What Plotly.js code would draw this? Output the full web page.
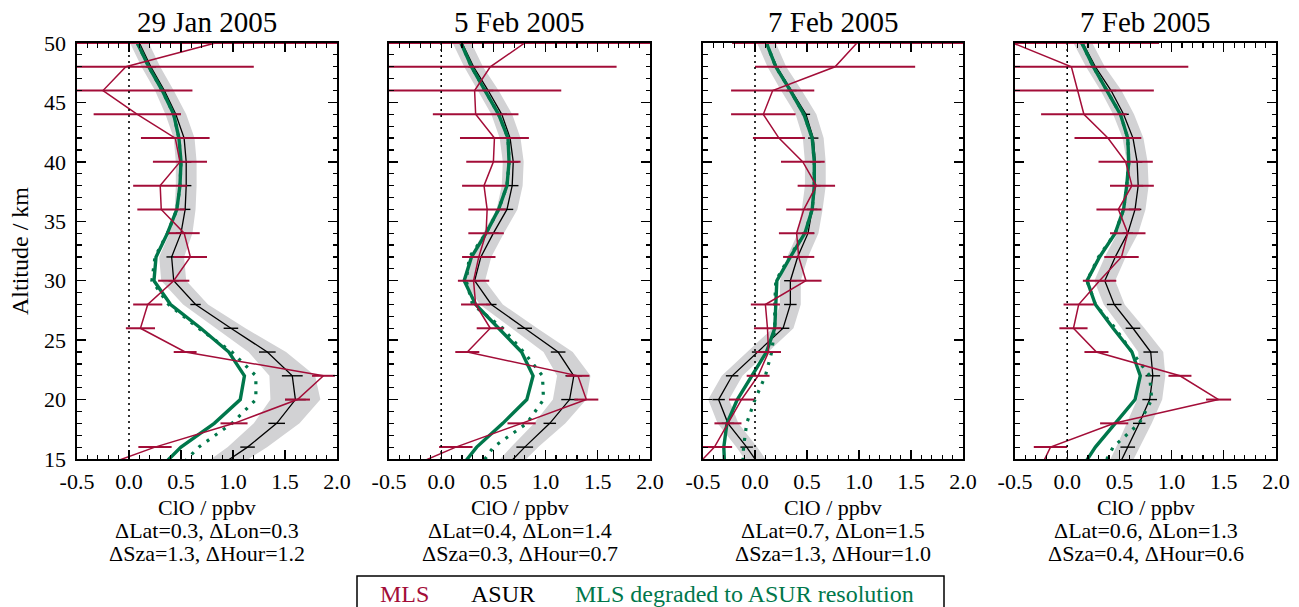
<!DOCTYPE html>
<html>
<head>
<meta charset="utf-8">
<script src="https://cdn.plot.ly/plotly-3.0.1.min.js"></script>
<style>html,body{margin:0;padding:0;background:#fff;}#chart{width:1299px;height:607px;}</style>
</head>
<body>
<div id="chart"></div>
<script>
// ---------- DATA ----------
const altitude = [50,48,46,44,42,40,38,36,34,32,30,28,26,24,22,20,18,16,14];

const panelTitles = ["29 Jan 2005","5 Feb 2005","7 Feb 2005","7 Feb 2005"];
const latLonText = ["\u0394Lat=0.3, \u0394Lon=0.3","\u0394Lat=0.4, \u0394Lon=1.4","\u0394Lat=0.7, \u0394Lon=1.5","\u0394Lat=0.6, \u0394Lon=1.3"];
const szaHourText = ["\u0394Sza=1.3, \u0394Hour=1.2","\u0394Sza=0.3, \u0394Hour=0.7","\u0394Sza=1.3, \u0394Hour=1.0","\u0394Sza=0.4, \u0394Hour=0.6"];

const xTickVals = [-0.5,0,0.5,1,1.5,2];
const xTickText = ["-0.5","0.0","0.5","1.0","1.5","2.0"];
const yTickVals = [15,20,25,30,35,40,45,50];

// MLS (red)
const mls1 = [0.83,-0.03,-0.25,0.08,0.445,0.49,0.30,0.31,0.53,0.59,0.43,0.18,0.11,0.54,1.87,1.62,1.01,0.25,-0.38];
const mls2 = [0.80,0.47,0.32,0.33,0.51,0.50,0.41,0.44,0.43,0.36,0.31,0.33,0.47,0.25,1.31,1.39,0.77,0.14,-0.39];
const mls3 = [0.98,0.77,0.17,0.08,0.23,0.46,0.59,0.47,0.40,0.42,0.49,0.10,0.12,0.13,0.03,-0.13,-0.26,-0.39,-0.61];
const mls4 = [-0.52,0.04,0.10,0.16,0.39,0.56,0.62,0.49,0.58,0.52,0.31,0.11,0.06,0.28,1.08,1.45,0.45,-0.16,-0.27];
const mlsErr1 = [1.45,1.23,0.86,0.42,0.33,0.26,0.26,0.23,0.15,0.16,0.15,0.14,0.14,0.11,0.11,0.12,0.13,0.16,0.2];
const mlsErr2 = [1.45,1.21,0.83,0.41,0.33,0.26,0.21,0.18,0.17,0.16,0.15,0.14,0.13,0.115,0.11,0.115,0.135,0.16,0.2];
const mlsErr3 = [1.2,0.77,0.40,0.31,0.25,0.21,0.18,0.17,0.17,0.15,0.15,0.14,0.13,0.12,0.11,0.12,0.13,0.17,0.2];
const mlsErr4 = [1.4,1.12,0.73,0.41,0.32,0.26,0.21,0.21,0.17,0.165,0.16,0.145,0.135,0.115,0.11,0.12,0.135,0.16,0.2];

// ASUR (black) with grey uncertainty band
const asur1 = [0.10,0.21,0.34,0.45,0.53,0.55,0.55,0.54,0.50,0.41,0.43,0.64,0.98,1.33,1.57,1.60,1.42,1.14,0.80];
const asur2 = [0.20,0.31,0.45,0.58,0.66,0.69,0.68,0.63,0.50,0.38,0.32,0.48,0.80,1.12,1.27,1.23,1.04,0.80,0.58];
const asur3 = [0.11,0.21,0.35,0.49,0.56,0.58,0.58,0.55,0.51,0.41,0.34,0.34,0.27,0.02,-0.22,-0.35,-0.26,-0.08,0.08];
const asur4 = [0.15,0.27,0.42,0.54,0.63,0.67,0.68,0.65,0.58,0.46,0.36,0.45,0.63,0.80,0.82,0.79,0.69,0.58,0.47];
const asurBand1 = [0.09,0.09,0.09,0.10,0.10,0.10,0.10,0.10,0.11,0.12,0.12,0.12,0.14,0.18,0.22,0.24,0.22,0.19,0.17];
const asurBand2 = [0.09,0.09,0.10,0.10,0.10,0.10,0.10,0.10,0.10,0.10,0.10,0.11,0.12,0.14,0.16,0.16,0.15,0.13,0.12];
const asurBand3 = [0.09,0.09,0.10,0.10,0.10,0.10,0.10,0.10,0.10,0.10,0.10,0.10,0.10,0.10,0.10,0.10,0.10,0.10,0.10];
const asurBand4 = [0.09,0.09,0.10,0.10,0.10,0.10,0.10,0.10,0.10,0.10,0.10,0.10,0.11,0.12,0.12,0.12,0.12,0.11,0.11];
const asurErr1 = [0.05,0.05,0.05,0.05,0.05,0.05,0.05,0.05,0.05,0.05,0.05,0.05,0.07,0.08,0.10,0.10,0.08,0.07,0.07];
const asurErr2 = [0.05,0.05,0.05,0.05,0.05,0.05,0.06,0.06,0.05,0.05,0.05,0.05,0.07,0.07,0.08,0.08,0.06,0.08,0.08];
const asurErr3 = [0.05,0.05,0.05,0.04,0.05,0.05,0.05,0.05,0.06,0.05,0.06,0.06,0.06,0.05,0.06,0.06,0.06,0.06,0.06];
const asurErr4 = [0.05,0.05,0.05,0.05,0.05,0.05,0.05,0.06,0.05,0.05,0.05,0.07,0.07,0.07,0.07,0.07,0.06,0.07,0.07];

// MLS degraded to ASUR resolution (green solid) and dotted variant
const deg1 = [0.08,0.19,0.32,0.43,0.48,0.50,0.49,0.46,0.37,0.26,0.24,0.40,0.69,0.96,1.11,1.07,0.82,0.50,0.27];
const deg2 = [0.19,0.29,0.42,0.55,0.64,0.65,0.63,0.55,0.43,0.29,0.22,0.33,0.55,0.77,0.88,0.82,0.59,0.34,0.16];
const deg3 = [0.11,0.20,0.34,0.47,0.55,0.57,0.57,0.55,0.48,0.34,0.21,0.20,0.19,0.11,-0.03,-0.17,-0.27,-0.30,-0.29];
const deg4 = [0.14,0.25,0.38,0.51,0.58,0.59,0.57,0.54,0.46,0.31,0.19,0.27,0.44,0.62,0.70,0.65,0.46,0.27,0.12];
const degDot1 = [0.08,0.19,0.32,0.43,0.48,0.50,0.49,0.46,0.37,0.25,0.22,0.38,0.67,0.99,1.22,1.22,0.99,0.67,0.45];
const degDot2 = [0.19,0.29,0.42,0.55,0.64,0.65,0.63,0.55,0.43,0.27,0.24,0.30,0.59,0.79,0.97,0.98,0.82,0.50,0.34];
const degDot3 = [0.11,0.20,0.34,0.47,0.55,0.57,0.57,0.55,0.48,0.33,0.20,0.19,0.19,0.16,0.10,0.00,-0.08,-0.11,-0.12];
const degDot4 = [0.14,0.25,0.38,0.51,0.58,0.59,0.57,0.54,0.46,0.30,0.19,0.27,0.46,0.62,0.79,0.81,0.69,0.44,0.32];

const legendLabels = ["MLS","ASUR","MLS degraded to ASUR resolution"];

// ---------- STYLE ----------
const RED = "#a30d38", GREEN = "#00774b", GREY = "#d2d2d4";
const FONT = '"Liberation Serif", "Times New Roman", serif';
const W = 1299, H = 607;
const panelsPx = [[77,337],[389,650],[703,963],[1015,1276]];
const plotTop = 43, plotBottom = 459;

const panels = [
  {mls:mls1, mlsErr:mlsErr1, asur:asur1, band:asurBand1, aerr:asurErr1, deg:deg1, dot:degDot1},
  {mls:mls2, mlsErr:mlsErr2, asur:asur2, band:asurBand2, aerr:asurErr2, deg:deg2, dot:degDot2},
  {mls:mls3, mlsErr:mlsErr3, asur:asur3, band:asurBand3, aerr:asurErr3, deg:deg3, dot:degDot3},
  {mls:mls4, mlsErr:mlsErr4, asur:asur4, band:asurBand4, aerr:asurErr4, deg:deg4, dot:degDot4}
];

const traces = [];
const layout = {
  width: W, height: H,
  margin: {l:0, r:0, t:0, b:0},
  paper_bgcolor: "#fff", plot_bgcolor: "#fff",
  showlegend: false,
  font: {family: FONT, color: "#000", size: 22},
  annotations: [], shapes: []
};

panels.forEach((p, i) => {
  const n = i === 0 ? "" : String(i + 1);
  const xa = "x" + n, ya = "y" + n;
  const up = p.asur.map((v, k) => v + p.band[k]);
  const lo = p.asur.map((v, k) => v - p.band[k]);
  traces.push({type:"scatter", mode:"lines", xaxis:xa, yaxis:ya,
    x: up.concat(lo.slice().reverse()), y: altitude.concat(altitude.slice().reverse()),
    fill:"toself", fillcolor:GREY, line:{width:0, color:GREY}, hoverinfo:"skip"});
  traces.push({type:"scatter", mode:"lines", xaxis:xa, yaxis:ya, x:p.asur, y:altitude,
    line:{color:"#000", width:1.3},
    error_x:{type:"data", array:p.aerr, visible:true, color:"#000", thickness:1.4, width:0}});
  traces.push({type:"scatter", mode:"lines", xaxis:xa, yaxis:ya, x:p.dot, y:altitude,
    line:{color:GREEN, width:3.2, dash:"3px,7px"}});
  traces.push({type:"scatter", mode:"lines", xaxis:xa, yaxis:ya, x:p.deg, y:altitude,
    line:{color:GREEN, width:3.4}});
  traces.push({type:"scatter", mode:"lines", xaxis:xa, yaxis:ya, x:p.mls, y:altitude,
    line:{color:RED, width:1.5},
    error_x:{type:"data", array:p.mlsErr, visible:true, color:RED, thickness:2, width:0}});

  const x0 = panelsPx[i][0] / W, x1 = panelsPx[i][1] / W;
  layout["xaxis" + n] = {
    domain:[x0, x1], anchor:ya, range:[-0.5, 2.0],
    tickvals:xTickVals, ticktext:xTickText,
    ticks:"inside", ticklen:9, tickwidth:1.3, tickcolor:"#000",
    minor:{ticks:"inside", ticklen:4.5, dtick:0.1, tickwidth:1.2, tickcolor:"#000"},
    showline:true, linecolor:"#000", linewidth:1.6, mirror:"ticks",
    showgrid:false, zeroline:false, ticklabelstandoff:2,
    tickfont:{family:FONT, size:22, color:"#000"}, fixedrange:true
  };
  layout["yaxis" + n] = {
    domain:[1 - plotBottom / H, 1 - plotTop / H], anchor:xa, range:[15, 50],
    tickvals:yTickVals, showticklabels: i === 0,
    ticks:"inside", ticklen:9, tickwidth:1.3, tickcolor:"#000",
    minor:{ticks:"inside", ticklen:4.5, dtick:1, tickwidth:1.2, tickcolor:"#000"},
    showline:true, linecolor:"#000", linewidth:1.6, mirror:"ticks",
    showgrid:false, zeroline:false, ticklabelstandoff:5,
    tickfont:{family:FONT, size:22, color:"#000"}, fixedrange:true
  };
  layout.shapes.push({type:"line", xref:xa, yref:ya + " domain", x0:0, x1:0, y0:0, y1:1,
    line:{color:"#000", width:1.6, dash:"2px,4px"}, layer:"above"});
  const xc = (x0 + x1) / 2;
  layout.annotations.push({text:panelTitles[i], xref:"paper", yref:"paper", x:xc, y:1 - 22 / H,
    xanchor:"center", yanchor:"middle", showarrow:false, font:{family:FONT, size:29, color:"#000"}});
  layout.annotations.push({text:"ClO / ppbv", xref:"paper", yref:"paper", x:xc, y:1 - 507 / H,
    xanchor:"center", yanchor:"middle", showarrow:false, font:{family:FONT, size:22, color:"#000"}});
  layout.annotations.push({text:latLonText[i], xref:"paper", yref:"paper", x:xc, y:1 - 530 / H,
    xanchor:"center", yanchor:"middle", showarrow:false, font:{family:FONT, size:22, color:"#000"}});
  layout.annotations.push({text:szaHourText[i], xref:"paper", yref:"paper", x:xc, y:1 - 553 / H,
    xanchor:"center", yanchor:"middle", showarrow:false, font:{family:FONT, size:22, color:"#000"}});
});

layout.annotations.push({text:"Altitude / km", xref:"paper", yref:"paper", x:20 / W, y:1 - 251 / H,
  xanchor:"center", yanchor:"middle", textangle:-90, showarrow:false, font:{family:FONT, size:24, color:"#000"}});

layout.shapes.push({type:"rect", xref:"paper", yref:"paper", x0:357 / W, x1:944 / W, y0:-0.05, y1:1 - 576 / H,
  line:{color:"#000", width:1.5}, fillcolor:"rgba(0,0,0,0)"});
const legendCol = [RED, "#000", GREEN];
const legendX = [404, 503, 744];
legendLabels.forEach((t, k) => {
  layout.annotations.push({text:t, xref:"paper", yref:"paper", x:legendX[k] / W, y:1 - 594 / H,
    xanchor:"center", yanchor:"middle", showarrow:false, font:{family:FONT, size:24, color:legendCol[k]}});
});

Plotly.newPlot("chart", traces, layout, {staticPlot:true, displayModeBar:false});
</script>
</body>
</html>
